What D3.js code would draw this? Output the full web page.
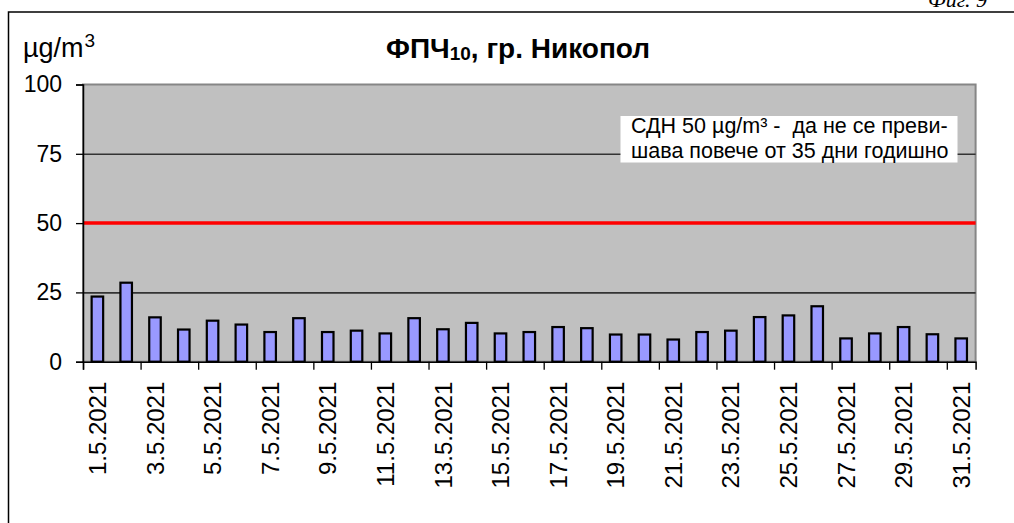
<!DOCTYPE html>
<html>
<head>
<meta charset="utf-8">
<script src="https://cdn.jsdelivr.net/npm/d3@7"></script>
<style>
    body { margin: 0; background: #fff; }
    svg { display: block; }
    text { font-family: "Liberation Sans", Arial, sans-serif; fill: #000; }
</style>
</head>
<body>
<svg class="chart"></svg>
<script>
var days = [];
for (var d = 1; d <= 31; d++) days.push(d + ".5.2021");
var pm10 = [23.5, 28.5, 16.0, 11.6, 14.8, 13.4, 10.7, 15.7, 10.7, 11.2, 10.2, 15.7, 11.7, 14.0, 10.2,
    10.7, 12.5, 12.1, 9.8, 9.8, 8.0, 10.7, 11.2, 16.1, 16.7, 20.0, 8.4, 10.2, 12.5, 9.9, 8.4];
var yTicks = [0, 25, 50, 75, 100];
var limitValue = 50;
var titleMain = "ФПЧ";
var titleSub = "10";
var titleRest = ", гр. Никопол";
var unitBase = "µg/m";
var unitPower = "3";
var noteLines = ["СДН 50 µg/m³ -  да не се преви-", "шава повече от 35 дни годишно"];
var figLabel = "Фиг. 9";

initChart();

function initChart() {
    var outerSize = {width: 1014, height: 523};
    var plot = {left: 83, top: 84.5, right: 975.6, bottom: 361.7};

    var svg = d3.select(".chart")
            .attr("width", outerSize.width)
            .attr("height", outerSize.height);

    // figure caption, cut off at the top like the scan
    svg.append("text")
            .attr("x", 987)
            .attr("y", 7)
            .style("text-anchor", "end")
            .style("font-family", "'Liberation Serif', serif")
            .style("font-style", "italic")
            .style("font-size", "22px")
            .text(figLabel);

    // outer frame
    svg.append("rect")
            .attr("x", 8.5).attr("y", 12)
            .attr("width", 1020).attr("height", 530)
            .attr("fill", "none")
            .attr("stroke", "#000")
            .attr("stroke-width", 1.5);

    var xRange = d3.scaleBand()
            .domain(days)
            .range([plot.left, plot.right])
            .paddingInner(0.6)
            .paddingOuter(0.3);
    var xIndex = d3.scaleLinear()
            .domain([0, days.length])
            .range([plot.left, plot.right]);
    var yRange = d3.scaleLinear()
            .domain([0, 100])
            .range([plot.bottom, plot.top]);

    svg.append("rect")
            .attr("x", plot.left).attr("y", plot.top)
            .attr("width", plot.right - plot.left)
            .attr("height", plot.bottom - plot.top)
            .attr("fill", "#c0c0c0")
            .attr("stroke", "#868686")
            .attr("stroke-width", 2);

    // gridlines
    var grid = svg.append("g")
            .attr("transform", "translate(" + plot.left + ",0)")
            .call(d3.axisLeft(yRange).tickValues([25, 75]).tickSize(-(plot.right - plot.left)).tickFormat(""));
    grid.select(".domain").remove();
    grid.selectAll("line").attr("stroke", "#333").attr("stroke-width", 1.6);

    // note box
    var note = svg.append("g");
    note.append("rect")
            .attr("x", 620.5).attr("y", 116)
            .attr("width", 337).attr("height", 46.5)
            .attr("fill", "#fff");
    note.selectAll("text")
            .data(noteLines)
            .enter().append("text")
            .attr("x", 631)
            .attr("y", function (t, i) { return 133 + i * 25; })
            .style("font-size", "21.5px")
            .style("white-space", "pre")
            .text(function (t) { return t; });

    // limit line
    svg.append("line")
            .attr("x1", plot.left).attr("x2", plot.right)
            .attr("y1", yRange(limitValue)).attr("y2", yRange(limitValue))
            .attr("stroke", "#ff0000")
            .attr("stroke-width", 3.5);

    // bars
    svg.selectAll(".bar")
            .data(pm10)
            .enter().append("rect")
            .attr("class", "bar")
            .attr("x", function (v, i) { return xRange(days[i]); })
            .attr("width", xRange.bandwidth())
            .attr("y", function (v) { return yRange(v); })
            .attr("height", function (v) { return plot.bottom - yRange(v); })
            .attr("fill", "#9999ff")
            .attr("stroke", "#000")
            .attr("stroke-width", 2.2);

    // y axis
    var yAxis = svg.append("g")
            .attr("transform", "translate(" + plot.left + ",0)")
            .call(d3.axisLeft(yRange).tickValues(yTicks).tickSize(7).tickPadding(14));
    yAxis.selectAll("line").attr("stroke", "#000").attr("stroke-width", 1.3);
    yAxis.select(".domain").attr("stroke", "#000").attr("stroke-width", 1.5);
    yAxis.selectAll("text")
            .style("font-size", "23px")
            .attr("fill", "#000");

    // x axis ticks at category boundaries
    var xTicks = svg.append("g")
            .attr("transform", "translate(0," + plot.bottom + ")")
            .call(d3.axisBottom(xIndex).tickValues(d3.range(0, days.length + 1, 2)).tickSize(8).tickFormat(""));
    xTicks.selectAll("line").attr("stroke", "#000").attr("stroke-width", 1.3);
    xTicks.select(".domain").attr("stroke", "#000").attr("stroke-width", 1.5);

    // x labels, every second day
    var xLabels = svg.append("g")
            .attr("transform", "translate(0," + plot.bottom + ")")
            .call(d3.axisBottom(xRange).tickValues(days.filter(function (t, i) { return i % 2 === 0; })).tickSize(0));
    xLabels.select(".domain").remove();
    xLabels.selectAll("text")
            .attr("transform", "rotate(-90)")
            .attr("x", -20)
            .attr("y", 0)
            .attr("dy", "0.36em")
            .style("text-anchor", "end")
            .style("font-size", "24px")
            .attr("fill", "#000");

    // unit label
    var unit = svg.append("text")
            .attr("x", 23)
            .attr("y", 57)
            .style("font-size", "27px");
    unit.append("tspan").text(unitBase);
    unit.append("tspan").attr("dx", 1).attr("dy", -10).style("font-size", "19px").text(unitPower);

    // title
    var title = svg.append("text")
            .attr("x", 518)
            .attr("y", 58)
            .style("text-anchor", "middle")
            .style("font-weight", "bold")
            .style("font-size", "28px");
    title.append("tspan").text(titleMain);
    title.append("tspan").attr("dy", 2).style("font-size", "19px").text(titleSub);
    title.append("tspan").attr("dy", -2).text(titleRest);
}
</script>
</body>
</html>
